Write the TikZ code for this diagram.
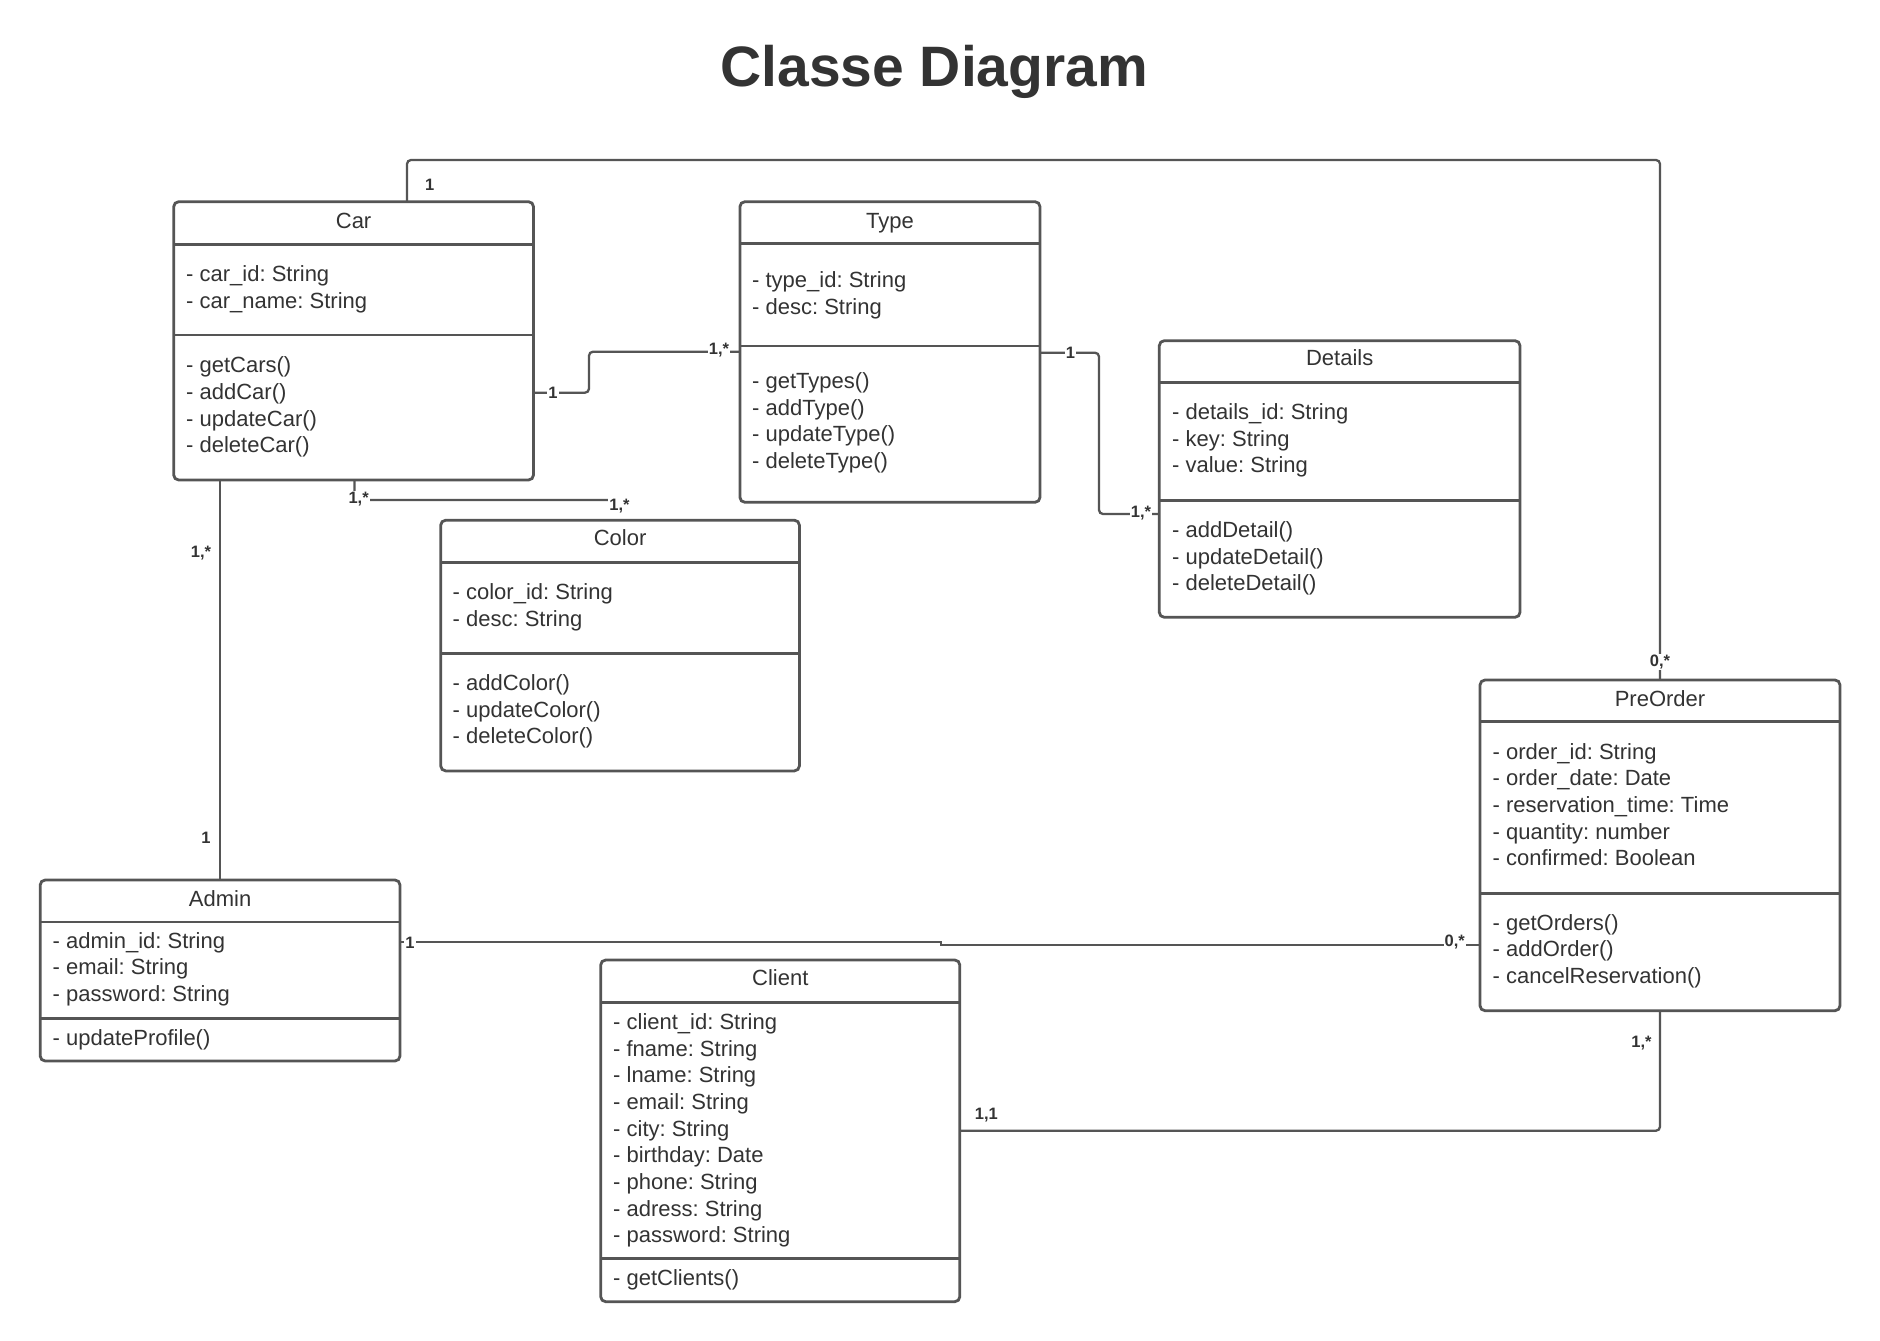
\documentclass[tikz,border=0pt]{standalone}
\usepackage{fontspec}
\setmainfont{Liberation Sans}
\frenchspacing
\definecolor{ink}{HTML}{333333}
\definecolor{edge}{HTML}{555555}

% class box: name, left, top, right, bottom, header divider, attribute divider
\newcommand\umlclass[7]{%
  \node[classbox, anchor=north west,
        minimum width={(#4-#2)*1pt}, minimum height={(#5-#3)*1pt}] (#1) at (#2,#3) {};
  \draw[divider] (#1.west |- 0,#6) -- (#1.east |- 0,#6);
  \draw[divider] (#1.west |- 0,#7) -- (#1.east |- 0,#7);
}
% one text line per member: prefix, x, y of first line, list
\newcommand\members[4]{%
  \foreach \entry [count=\i] in {#4} {%
    \node[member] (#1\i) at (#2,{#3+6.8+(\i-1)*26.65}) {\entry};
  }%
}

\begin{document}
\begin{tikzpicture}[x=1pt,y=-1pt,
  classbox/.style={draw=edge, line width=2.8pt, rounded corners=5pt, fill=white,
                   inner sep=0pt, outer sep=0pt},
  divider/.style={draw=edge, line width=2.8pt},
  classname/.style={anchor=base, inner sep=0pt, text=ink,
                    font=\fontsize{22}{26.65}\selectfont},
  member/.style={anchor=base west, inner sep=0pt, text=ink,
                 font=\fontsize{22}{26.65}\selectfont\frenchspacing},
  assoc/.style={draw=edge, line width=2.3pt, rounded corners=4pt},
  mult/.style={inner sep=1pt, fill=white, text=ink,
               font=\fontsize{16.5}{19}\selectfont\bfseries}
]
\useasboundingbox[fill=white] (0,0) rectangle (1880,1341);

\node[anchor=base, text=ink, font=\fontsize{57}{68}\selectfont\bfseries]
  (title) at (934.25,86.7) {Classe Diagram};

% classes
\umlclass{car}{173.7}{201.7}{533.5}{480}{244.3}{335}
\umlclass{type}{739.9}{201.7}{1040}{502.3}{243.3}{346}
\umlclass{details}{1159.3}{340.7}{1520}{617.3}{382.3}{500.7}
\umlclass{color}{440.7}{520.2}{799.4}{770.9}{562.3}{653.4}
\umlclass{admin}{40.2}{880}{400}{1061}{922}{1018.5}
\umlclass{client}{600.7}{960}{959.8}{1301.7}{1002.3}{1258.3}
\umlclass{preorder}{1480}{680}{1840}{1010.7}{721.7}{893.3}

\node[classname] (car-name) at (car.north |- 0,228) {Car};
\node[classname] (type-name) at (type.north |- 0,228) {Type};
\node[classname] (details-name) at (details.north |- 0,365.3) {Details};
\node[classname] (color-name) at (color.north |- 0,545.6) {Color};
\node[classname] (admin-name) at (admin.north |- 0,906) {Admin};
\node[classname] (client-name) at (client.north |- 0,985.3) {Client};
\node[classname] (preorder-name) at (preorder.north |- 0,706) {PreOrder};

\members{car-a}{186}{275}{- car\_id: String, - car\_name: String}
\members{car-m}{186}{366}{- getCars(), - addCar(), - updateCar(), - deleteCar()}
\members{type-a}{752}{280.7}{- type\_id: String, - desc: String}
\members{type-m}{752}{381.7}{- getTypes(), - addType(), - updateType(), - deleteType()}
\members{details-a}{1172}{412.7}{- details\_id: String, - key: String, - value: String}
\members{details-m}{1172}{530.7}{- addDetail(), - updateDetail(), - deleteDetail()}
\members{color-a}{452.5}{592.9}{- color\_id: String, - desc: String}
\members{color-m}{452.5}{683.6}{- addColor(), - updateColor(), - deleteColor()}
\members{admin-a}{52.5}{941.2}{- admin\_id: String, - email: String, - password: String}
\members{admin-m}{52.5}{1038.7}{- updateProfile()}
\members{client-a}{613}{1022.7}{- client\_id: String, - fname: String, - lname: String,
  - email: String, - city: String, - birthday: Date, - phone: String, - adress: String,
  - password: String}
\members{client-m}{613}{1278.3}{- getClients()}
\members{preorder-a}{1492.5}{752.3}{- order\_id: String, - order\_date: Date,
  - reservation\_time: Time, - quantity: number, - confirmed: Boolean}
\members{preorder-m}{1492.5}{923.3}{- getOrders(), - addOrder(), - cancelReservation()}

% associations
\coordinate (colorstub) at (color.north |- 0,500);
\draw[assoc] (car.north -| 407,0) -- (407,160) -- (preorder.north |- 0,160) -- (preorder.north);
\draw[assoc] (car.east |- 0,392.7) -- (589,392.7) -- (589,351.7) -- (type.west |- 0,351.7);
\draw[assoc] (type.east |- 0,352.7) -- (1099,352.7) -- (1099,514) -- (details.west |- 0,514);
\draw[assoc] (car.south -| 354.4,0) -- (354.4,500) -- (colorstub);
\draw[assoc] (car.south -| admin.north) -- (admin.north);
\draw[assoc, rounded corners=0pt] (admin.east |- 0,942) -- (940.7,942) -- (940.7,945)
  -- (preorder.west |- 0,945);
\draw[assoc] (client.east |- 0,1130.7) -- (preorder.south |- 0,1130.7) -- (preorder.south);

% multiplicities
\node[mult] (m1) at (429.6,185) {1};
\node[mult] (m2) at (553,392.7) {1};
\node[mult] (m3) at (719,350) {1,*};
\node[mult] (m4) at (1070.4,352.7) {1};
\node[mult] (m5) at (1141,513) {1,*};
\node[mult] (m6) at (358.6,499) {1,*};
\node[mult] (m7) at (619.5,506) {1,*};
\node[mult] (m8) at (201,552.7) {1,*};
\node[mult] (m9) at (206,838) {1};
\node[mult] (m10) at (410,943) {1};
\node[mult] (m11) at (1454.8,942) {0,*};
\node[mult] (m12) at (986.3,1115) {1,1};
\node[mult] (m13) at (1641.4,1043.3) {1,*};
\node[mult] (m14) at (1660,661.7) {0,*};
\end{tikzpicture}
\end{document}
